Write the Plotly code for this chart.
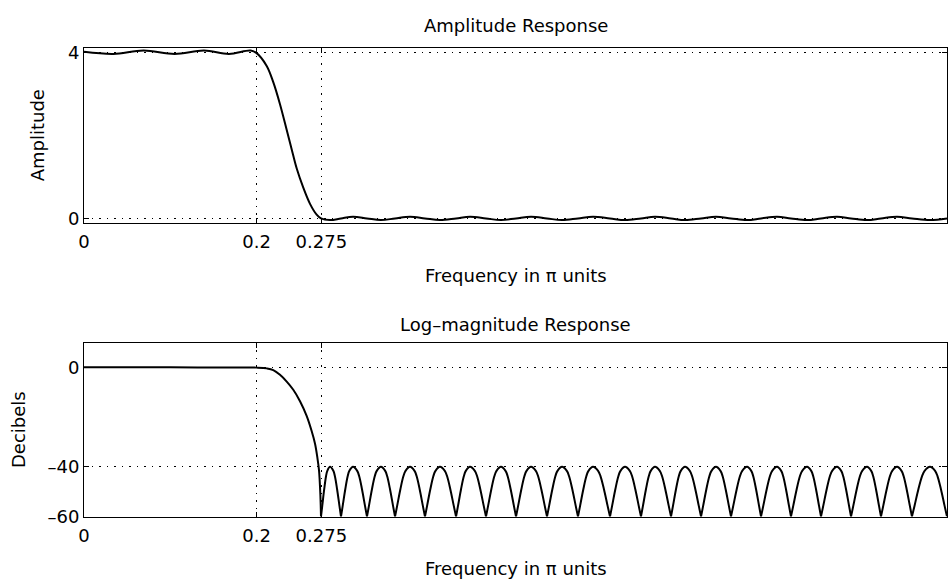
import plotly.graph_objects as go

# ---- data ----
# Amplitude response: passband extremes
pass_freq = [0.0, 0.034, 0.069, 0.105, 0.139, 0.168, 0.193]
pass_amp = [4.01, 3.96, 4.04, 3.96, 4.04, 3.96, 4.04]

# Amplitude response: transition band
trans_freq = [0.200, 0.2117, 0.2193, 0.2271, 0.2349, 0.2407, 0.2465, 0.2541, 0.2619, 0.2696]
trans_amp = [3.98, 3.67, 3.28, 2.75, 2.13, 1.66, 1.20, 0.74, 0.35, 0.09]

# Stopband nulls and ripple peaks (frequency in pi units)
null_freq = [0.2746, 0.2978, 0.3279, 0.3604, 0.3951, 0.4311, 0.4658, 0.5006, 0.5365, 0.5724,
             0.6095, 0.6454, 0.6802, 0.7150, 0.7497, 0.7845, 0.8192, 0.8540, 0.8888, 0.9235, 0.9594]
peak_freq = [0.2851, 0.3117, 0.3441, 0.3778, 0.4125, 0.4473, 0.4832, 0.5180, 0.5539, 0.5898,
             0.6269, 0.6616, 0.6964, 0.7323, 0.7683, 0.8030, 0.8378, 0.8725, 0.9073, 0.9421, 0.9803]
peak_amp = [-0.04, 0.04, -0.04, 0.04, -0.04, 0.04, -0.04, 0.04, -0.04, 0.04,
            -0.04, 0.04, -0.04, 0.04, -0.04, 0.04, -0.04, 0.04, -0.04, 0.04, -0.04]
peak_db = [-40, -40, -40, -40, -40, -40, -40, -40, -40, -40,
           -40, -40, -40, -40, -40, -40, -40, -40, -40, -40, -40]
end_freq = 1.0
end_amp = 0.0
floor_db = -60

# Shape of one stopband lobe in dB
# (position across the lobe as a fraction of null-to-null width, level in dB)
lobe_frac = [0.072, 0.178, 0.278, 0.35, 0.65, 0.722, 0.822, 0.928]
lobe_db = [-55.6, -49.0, -43.8, -41.6, -41.6, -43.8, -49.0, -55.6]

# Log-magnitude response: passband / transition
db_trans_freq = [0.0, 0.1, 0.19, 0.200, 0.2117, 0.2193, 0.2271, 0.2349, 0.2425, 0.2503, 0.2580,
                 0.2637, 0.2677, 0.2703, 0.2723, 0.2738, 0.2746]
db_trans_val = [0.0, 0.0, -0.05, -0.1, -0.4, -1.07, -3.0, -5.7, -9.0, -13.6, -19.5,
                -25.5, -30.7, -36.0, -41.3, -50.5, -60.0]

# Axis ticks
x_ticks = [0, 0.2, 0.275, 1]
x_ticktext = ["0", "0.2", "0.275", "1"]
amp_ticks = [0, 4]
db_ticks = [-60, -40, 0]
db_ticktext = ["\u201360", "\u201340", "0"]

# ---- build traces ----
amp_x = list(pass_freq) + list(trans_freq)
amp_y = list(pass_amp) + list(trans_amp)
for nf, pf, pa in zip(null_freq, peak_freq, peak_amp):
    amp_x += [nf, pf]
    amp_y += [0.0, pa]
amp_x.append(end_freq)
amp_y.append(end_amp)

db_x = list(db_trans_freq) + [None]
db_y = list(db_trans_val) + [None]
rights = null_freq[1:] + [end_freq]
for nl, pf, pdb, nr in zip(null_freq, peak_freq, peak_db, rights):
    xs = [nl]
    ys = [floor_db]
    left = [(fr, d) for fr, d in zip(lobe_frac, lobe_db) if fr < 0.5]
    right = [(fr, d) for fr, d in zip(lobe_frac, lobe_db) if fr > 0.5]
    for fr, d in left:
        xs.append(nl + fr * (pf - nl) * 2)
        ys.append(d)
    xs.append(pf)
    ys.append(pdb)
    for fr, d in right:
        xs.append(pf + (fr - 0.5) * 2 * (nr - pf))
        ys.append(d)
    xs.append(nr)
    ys.append(floor_db)
    db_x += xs + [None]
    db_y += ys + [None]

W, H = 949, 583
FONT = "DejaVu Sans"
FS = 18

fig = go.Figure()
fig.add_trace(go.Scatter(x=amp_x, y=amp_y, mode="lines", xaxis="x", yaxis="y",
                         line=dict(color="black", width=2, shape="spline", smoothing=1.0),
                         hoverinfo="skip", showlegend=False))
fig.add_trace(go.Scatter(x=db_x, y=db_y, mode="lines", xaxis="x2", yaxis="y2",
                         connectgaps=False,
                         line=dict(color="black", width=2, shape="spline", smoothing=1.0),
                         hoverinfo="skip", showlegend=False))

def py(p):
    return 1 - p / H

common = dict(showline=True, linecolor="black", linewidth=1, mirror="allticks",
              ticks="inside", ticklen=5, tickcolor="black", tickwidth=1,
              showgrid=True, gridcolor="black", gridwidth=1.2, griddash="1.5px,6px",
              zeroline=False, tickfont=dict(family=FONT, size=FS, color="black"))

top_dom = [py(222.7), py(43.3)]
bot_dom = [py(525), py(346)]

fig.update_layout(
    width=W, height=H,
    margin=dict(l=84, r=2, t=0, b=0),
    paper_bgcolor="white", plot_bgcolor="white",
    font=dict(family=FONT, size=FS, color="black"),
    xaxis=dict(domain=[0, 1], range=[0, 1], anchor="y", tickvals=x_ticks, ticktext=x_ticktext,
               ticklabelstandoff=3, **common),
    yaxis=dict(domain=top_dom, range=[-0.1, 4.1], anchor="x", tickvals=amp_ticks, **common),
    xaxis2=dict(domain=[0, 1], range=[0, 1], anchor="y2", tickvals=x_ticks, ticktext=x_ticktext,
                ticklabelstandoff=3, **common),
    yaxis2=dict(domain=bot_dom, range=[-60, 10], anchor="x2", tickvals=db_ticks, ticktext=db_ticktext, **common),
)

cx = 0.5
ann = [
    dict(text="Amplitude Response", x=cx, y=py(20), xref="paper", yref="paper",
         xanchor="center", yanchor="middle", showarrow=False),
    dict(text="Frequency in \u03c0 units", x=cx, y=py(277), xref="paper", yref="paper",
         xanchor="center", yanchor="middle", showarrow=False),
    dict(text="Log\u2013magnitude Response", x=cx, y=py(328), xref="paper", yref="paper",
         xanchor="center", yanchor="middle", showarrow=False),
    dict(text="Frequency in \u03c0 units", x=cx, y=py(578), xref="paper", yref="paper",
         xanchor="center", yanchor="middle", showarrow=False),
    dict(text="Amplitude", x=(37 - 84) / 863, y=py(133), xref="paper", yref="paper",
         xanchor="center", yanchor="middle", textangle=-90, showarrow=False),
    dict(text="Decibels", x=(18 - 84) / 863, y=py(436), xref="paper", yref="paper",
         xanchor="center", yanchor="middle", textangle=-90, showarrow=False),
]
for a in ann:
    a["font"] = dict(family=FONT, size=FS, color="black")
fig.update_layout(annotations=ann)

fig.write_html("out.html")
